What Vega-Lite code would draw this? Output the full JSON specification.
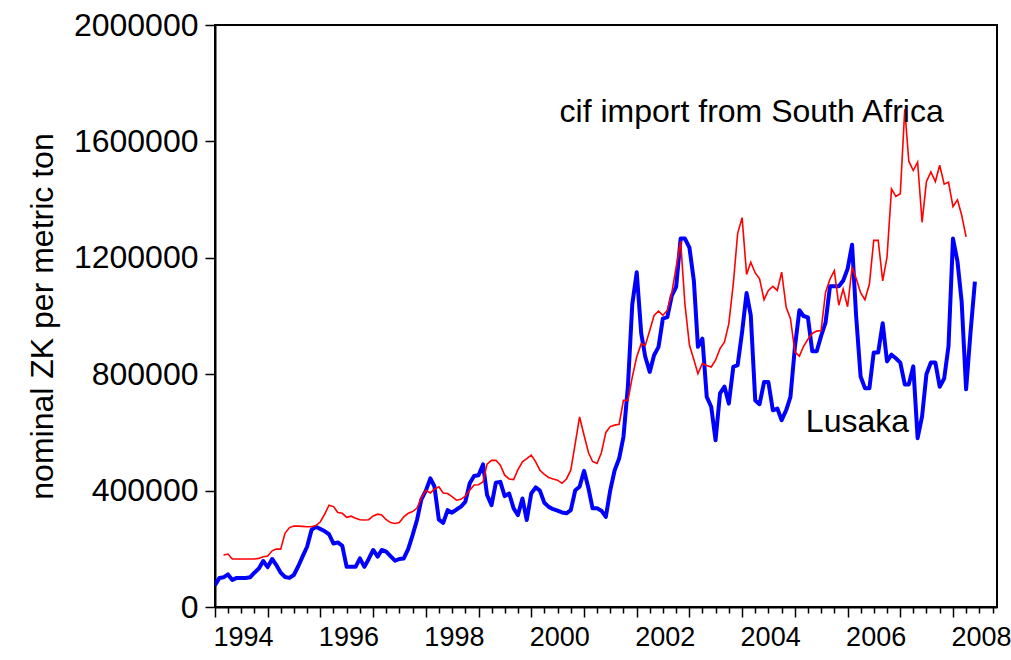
{
  "$schema": "https://vega.github.io/schema/vega-lite/v6.json",
  "width": 782,
  "height": 582,
  "autosize": {"type": "none"},
  "padding": {"left": 215, "top": 25, "right": 14, "bottom": 53},
  "background": "white",
  "config": {"view": {"stroke": "black", "strokeWidth": 2}, "font": "Liberation Sans"},
  "data": {
    "format": {"parse": {"month": "utc:'%Y-%m'"}},
    "values": [
      {"month": "1994-01", "lusaka": 75000},
      {"month": "1994-02", "lusaka": 100000},
      {"month": "1994-03", "lusaka": 102000, "cif": 178500},
      {"month": "1994-04", "lusaka": 112000, "cif": 182000},
      {"month": "1994-05", "lusaka": 93000, "cif": 165000},
      {"month": "1994-06", "lusaka": 100000, "cif": 165000},
      {"month": "1994-07", "lusaka": 100000, "cif": 165000},
      {"month": "1994-08", "lusaka": 100000, "cif": 165000},
      {"month": "1994-09", "lusaka": 102000, "cif": 165000},
      {"month": "1994-10", "lusaka": 118000, "cif": 165000},
      {"month": "1994-11", "lusaka": 132000, "cif": 167000},
      {"month": "1994-12", "lusaka": 158000, "cif": 173000},
      {"month": "1995-01", "lusaka": 137000, "cif": 175000},
      {"month": "1995-02", "lusaka": 165000, "cif": 193000},
      {"month": "1995-03", "lusaka": 145000, "cif": 199000},
      {"month": "1995-04", "lusaka": 118000, "cif": 199000},
      {"month": "1995-05", "lusaka": 103000, "cif": 253000},
      {"month": "1995-06", "lusaka": 100000, "cif": 273000},
      {"month": "1995-07", "lusaka": 110000, "cif": 278000},
      {"month": "1995-08", "lusaka": 140000, "cif": 278000},
      {"month": "1995-09", "lusaka": 175000, "cif": 277000},
      {"month": "1995-10", "lusaka": 207000, "cif": 276000},
      {"month": "1995-11", "lusaka": 265000, "cif": 276000},
      {"month": "1995-12", "lusaka": 276000, "cif": 280000},
      {"month": "1996-01", "lusaka": 268000, "cif": 293000},
      {"month": "1996-02", "lusaka": 260000, "cif": 320000},
      {"month": "1996-03", "lusaka": 250000, "cif": 350000},
      {"month": "1996-04", "lusaka": 218000, "cif": 345000},
      {"month": "1996-05", "lusaka": 222000, "cif": 325000},
      {"month": "1996-06", "lusaka": 210000, "cif": 322000},
      {"month": "1996-07", "lusaka": 138000, "cif": 308000},
      {"month": "1996-08", "lusaka": 138000, "cif": 312000},
      {"month": "1996-09", "lusaka": 138000, "cif": 305000},
      {"month": "1996-10", "lusaka": 167000, "cif": 300000},
      {"month": "1996-11", "lusaka": 138000, "cif": 299000},
      {"month": "1996-12", "lusaka": 165000, "cif": 300000},
      {"month": "1997-01", "lusaka": 196000, "cif": 313000},
      {"month": "1997-02", "lusaka": 173000, "cif": 319000},
      {"month": "1997-03", "lusaka": 196000, "cif": 316000},
      {"month": "1997-04", "lusaka": 190000, "cif": 300000},
      {"month": "1997-05", "lusaka": 175000, "cif": 290000},
      {"month": "1997-06", "lusaka": 159000, "cif": 287000},
      {"month": "1997-07", "lusaka": 165000, "cif": 290000},
      {"month": "1997-08", "lusaka": 167000, "cif": 310000},
      {"month": "1997-09", "lusaka": 200000, "cif": 322000},
      {"month": "1997-10", "lusaka": 247000, "cif": 328000},
      {"month": "1997-11", "lusaka": 300000, "cif": 340000},
      {"month": "1997-12", "lusaka": 370000, "cif": 375000},
      {"month": "1998-01", "lusaka": 400000, "cif": 401000},
      {"month": "1998-02", "lusaka": 442000, "cif": 392000},
      {"month": "1998-03", "lusaka": 415000, "cif": 405000},
      {"month": "1998-04", "lusaka": 300000, "cif": 413000},
      {"month": "1998-05", "lusaka": 289000, "cif": 392000},
      {"month": "1998-06", "lusaka": 333000, "cif": 390000},
      {"month": "1998-07", "lusaka": 324000, "cif": 379000},
      {"month": "1998-08", "lusaka": 335000, "cif": 367000},
      {"month": "1998-09", "lusaka": 345000, "cif": 370000},
      {"month": "1998-10", "lusaka": 361000, "cif": 381000},
      {"month": "1998-11", "lusaka": 425000, "cif": 401000},
      {"month": "1998-12", "lusaka": 450000, "cif": 419000},
      {"month": "1999-01", "lusaka": 453000, "cif": 420000},
      {"month": "1999-02", "lusaka": 490000, "cif": 430000},
      {"month": "1999-03", "lusaka": 385000, "cif": 491000},
      {"month": "1999-04", "lusaka": 350000, "cif": 504000},
      {"month": "1999-05", "lusaka": 427000, "cif": 504000},
      {"month": "1999-06", "lusaka": 430000, "cif": 487000},
      {"month": "1999-07", "lusaka": 381000, "cif": 453000},
      {"month": "1999-08", "lusaka": 390000, "cif": 440000},
      {"month": "1999-09", "lusaka": 339000, "cif": 438000},
      {"month": "1999-10", "lusaka": 316000, "cif": 472000},
      {"month": "1999-11", "lusaka": 373000, "cif": 499000},
      {"month": "1999-12", "lusaka": 299000, "cif": 510000},
      {"month": "2000-01", "lusaka": 390000, "cif": 522000},
      {"month": "2000-02", "lusaka": 411000, "cif": 499000},
      {"month": "2000-03", "lusaka": 400000, "cif": 470000},
      {"month": "2000-04", "lusaka": 358000, "cif": 456000},
      {"month": "2000-05", "lusaka": 344000, "cif": 445000},
      {"month": "2000-06", "lusaka": 336000, "cif": 440000},
      {"month": "2000-07", "lusaka": 331000, "cif": 436000},
      {"month": "2000-08", "lusaka": 325000, "cif": 425000},
      {"month": "2000-09", "lusaka": 322000, "cif": 440000},
      {"month": "2000-10", "lusaka": 333000, "cif": 470000},
      {"month": "2000-11", "lusaka": 401000, "cif": 562000},
      {"month": "2000-12", "lusaka": 413000, "cif": 653000},
      {"month": "2001-01", "lusaka": 468000, "cif": 590000},
      {"month": "2001-02", "lusaka": 407000, "cif": 530000},
      {"month": "2001-03", "lusaka": 339000, "cif": 500000},
      {"month": "2001-04", "lusaka": 339000, "cif": 493000},
      {"month": "2001-05", "lusaka": 331000, "cif": 530000},
      {"month": "2001-06", "lusaka": 310000, "cif": 600000},
      {"month": "2001-07", "lusaka": 400000, "cif": 620000},
      {"month": "2001-08", "lusaka": 470000, "cif": 625000},
      {"month": "2001-09", "lusaka": 510000, "cif": 628000},
      {"month": "2001-10", "lusaka": 585000, "cif": 710000},
      {"month": "2001-11", "lusaka": 760000, "cif": 710000},
      {"month": "2001-12", "lusaka": 1040000, "cif": 790000},
      {"month": "2002-01", "lusaka": 1150000, "cif": 860000},
      {"month": "2002-02", "lusaka": 940000, "cif": 905000},
      {"month": "2002-03", "lusaka": 860000, "cif": 899000},
      {"month": "2002-04", "lusaka": 808000, "cif": 950000},
      {"month": "2002-05", "lusaka": 865000, "cif": 1002000},
      {"month": "2002-06", "lusaka": 894000, "cif": 1017000},
      {"month": "2002-07", "lusaka": 991000, "cif": 1002000},
      {"month": "2002-08", "lusaka": 996000, "cif": 1020000},
      {"month": "2002-09", "lusaka": 1070000, "cif": 1080000},
      {"month": "2002-10", "lusaka": 1100000, "cif": 1168000},
      {"month": "2002-11", "lusaka": 1266000, "cif": 1257000},
      {"month": "2002-12", "lusaka": 1266000, "cif": 1040000},
      {"month": "2003-01", "lusaka": 1235000, "cif": 900000},
      {"month": "2003-02", "lusaka": 1120000, "cif": 850000},
      {"month": "2003-03", "lusaka": 894000, "cif": 802000},
      {"month": "2003-04", "lusaka": 922000, "cif": 837000},
      {"month": "2003-05", "lusaka": 722000, "cif": 830000},
      {"month": "2003-06", "lusaka": 688000, "cif": 825000},
      {"month": "2003-07", "lusaka": 573000, "cif": 848000},
      {"month": "2003-08", "lusaka": 734000, "cif": 888000},
      {"month": "2003-09", "lusaka": 757000, "cif": 911000},
      {"month": "2003-10", "lusaka": 699000, "cif": 974000},
      {"month": "2003-11", "lusaka": 825000, "cif": 1111000},
      {"month": "2003-12", "lusaka": 831000, "cif": 1283000},
      {"month": "2004-01", "lusaka": 945000, "cif": 1338000},
      {"month": "2004-02", "lusaka": 1079000, "cif": 1143000},
      {"month": "2004-03", "lusaka": 1002000, "cif": 1185000},
      {"month": "2004-04", "lusaka": 710000, "cif": 1148000},
      {"month": "2004-05", "lusaka": 697000, "cif": 1128000},
      {"month": "2004-06", "lusaka": 773000, "cif": 1056000},
      {"month": "2004-07", "lusaka": 773000, "cif": 1088000},
      {"month": "2004-08", "lusaka": 676000, "cif": 1102000},
      {"month": "2004-09", "lusaka": 682000, "cif": 1088000},
      {"month": "2004-10", "lusaka": 642000, "cif": 1151000},
      {"month": "2004-11", "lusaka": 676000, "cif": 1031000},
      {"month": "2004-12", "lusaka": 722000, "cif": 991000},
      {"month": "2005-01", "lusaka": 894000, "cif": 876000},
      {"month": "2005-02", "lusaka": 1020000, "cif": 862000},
      {"month": "2005-03", "lusaka": 1000000, "cif": 895000},
      {"month": "2005-04", "lusaka": 995000, "cif": 920000},
      {"month": "2005-05", "lusaka": 879000, "cif": 940000},
      {"month": "2005-06", "lusaka": 879000, "cif": 948000},
      {"month": "2005-07", "lusaka": 931000, "cif": 950000},
      {"month": "2005-08", "lusaka": 977000, "cif": 1081000},
      {"month": "2005-09", "lusaka": 1102000, "cif": 1127000},
      {"month": "2005-10", "lusaka": 1102000, "cif": 1156000},
      {"month": "2005-11", "lusaka": 1102000, "cif": 1037000},
      {"month": "2005-12", "lusaka": 1121000, "cif": 1092000},
      {"month": "2006-01", "lusaka": 1162000, "cif": 1032000},
      {"month": "2006-02", "lusaka": 1245000, "cif": 1167000},
      {"month": "2006-03", "lusaka": 1000000, "cif": 1130000},
      {"month": "2006-04", "lusaka": 792000, "cif": 1080000},
      {"month": "2006-05", "lusaka": 752000, "cif": 1056000},
      {"month": "2006-06", "lusaka": 752000, "cif": 1110000},
      {"month": "2006-07", "lusaka": 875000, "cif": 1260000},
      {"month": "2006-08", "lusaka": 875000, "cif": 1260000},
      {"month": "2006-09", "lusaka": 975000, "cif": 1121000},
      {"month": "2006-10", "lusaka": 844000, "cif": 1202000},
      {"month": "2006-11", "lusaka": 867000, "cif": 1437000},
      {"month": "2006-12", "lusaka": 855000, "cif": 1411000},
      {"month": "2007-01", "lusaka": 840000, "cif": 1420000},
      {"month": "2007-02", "lusaka": 765000, "cif": 1711000},
      {"month": "2007-03", "lusaka": 765000, "cif": 1532000},
      {"month": "2007-04", "lusaka": 827000, "cif": 1500000},
      {"month": "2007-05", "lusaka": 580000, "cif": 1529000},
      {"month": "2007-06", "lusaka": 655000, "cif": 1322000},
      {"month": "2007-07", "lusaka": 800000, "cif": 1462000},
      {"month": "2007-08", "lusaka": 840000, "cif": 1495000},
      {"month": "2007-09", "lusaka": 840000, "cif": 1462000},
      {"month": "2007-10", "lusaka": 757000, "cif": 1518000},
      {"month": "2007-11", "lusaka": 785000, "cif": 1453000},
      {"month": "2007-12", "lusaka": 896000, "cif": 1460000},
      {"month": "2008-01", "lusaka": 1266000, "cif": 1376000},
      {"month": "2008-02", "lusaka": 1188000, "cif": 1399000},
      {"month": "2008-03", "lusaka": 1050000, "cif": 1347000},
      {"month": "2008-04", "lusaka": 748000, "cif": 1272000},
      {"month": "2008-05", "lusaka": 940000},
      {"month": "2008-06", "lusaka": 1118000}
    ]
  },
  "layer": [
    {
      "mark": {"type": "line", "color": "#0000ff", "strokeWidth": 4, "strokeJoin": "round", "clip": true},
      "encoding": {
        "x": {
          "field": "month",
          "type": "temporal",
          "scale": {"type": "utc", "domain": [{"year": 1994, "month": 1, "date": 1, "utc": true}, {"year": 2008, "month": 11, "date": 1, "utc": true}], "nice": false},
          "axis": {
            "title": null,
            "grid": false,
            "tickCount": {"interval": "month", "step": 3},
            "labelExpr": "utcmonth(datum.value) === 0 && utcyear(datum.value) % 2 === 0 ? utcFormat(datum.value, '%Y') : ''",
            "tickSize": {"condition": {"test": "utcmonth(datum.value) === 0", "value": 10}, "value": 6},
            "tickColor": "black",
            "tickWidth": 1.5,
            "domainColor": "black",
            "domainWidth": 2,
            "labelAlign": "left",
            "labelBaseline": "top",
            "labelFont": "Liberation Sans",
            "labelFontSize": 27,
            "labelColor": "black",
            "labelPadding": 7,
            "labelOffset": -2,
            "labelOverlap": false,
            "labelBound": false,
            "labelFlush": false
          }
        },
        "y": {
          "field": "lusaka",
          "type": "quantitative",
          "scale": {"domain": [0, 2000000], "nice": false, "zero": true},
          "axis": {
            "title": "nominal ZK per metric ton",
            "titleFont": "Liberation Sans",
            "titleFontSize": 32,
            "titleFontWeight": "normal",
            "titleColor": "black",
            "titlePadding": 14,
            "values": [0, 400000, 800000, 1200000, 1600000, 2000000],
            "format": "d",
            "grid": false,
            "tickSize": 10,
            "tickColor": "black",
            "tickWidth": 1.5,
            "domainColor": "black",
            "domainWidth": 2,
            "labelFont": "Liberation Sans",
            "labelFontSize": 32,
            "labelColor": "black",
            "labelPadding": 7,
            "labelOverlap": false,
            "labelBound": false,
            "labelFlush": false
          }
        }
      }
    },
    {
      "mark": {"type": "line", "color": "#ff0000", "strokeWidth": 1.6, "clip": true},
      "encoding": {
        "x": {"field": "month", "type": "temporal"},
        "y": {"field": "cif", "type": "quantitative", "title": "nominal ZK per metric ton"}
      }
    },
    {
      "data": {"values": [{"label": "cif import from South Africa"}]},
      "mark": {"type": "text", "font": "Liberation Sans", "fontSize": 32, "color": "black", "align": "center", "baseline": "alphabetic"},
      "encoding": {
        "x": {"datum": {"year": 2004, "month": 3, "date": 7, "utc": true}, "type": "temporal"},
        "y": {"datum": 1665000, "type": "quantitative"},
        "text": {"field": "label", "type": "nominal"}
      }
    },
    {
      "data": {"values": [{"label": "Lusaka"}]},
      "mark": {"type": "text", "font": "Liberation Sans", "fontSize": 32, "color": "black", "align": "center", "baseline": "alphabetic"},
      "encoding": {
        "x": {"datum": {"year": 2006, "month": 3, "date": 10, "utc": true}, "type": "temporal"},
        "y": {"datum": 600000, "type": "quantitative"},
        "text": {"field": "label", "type": "nominal"}
      }
    }
  ]
}
